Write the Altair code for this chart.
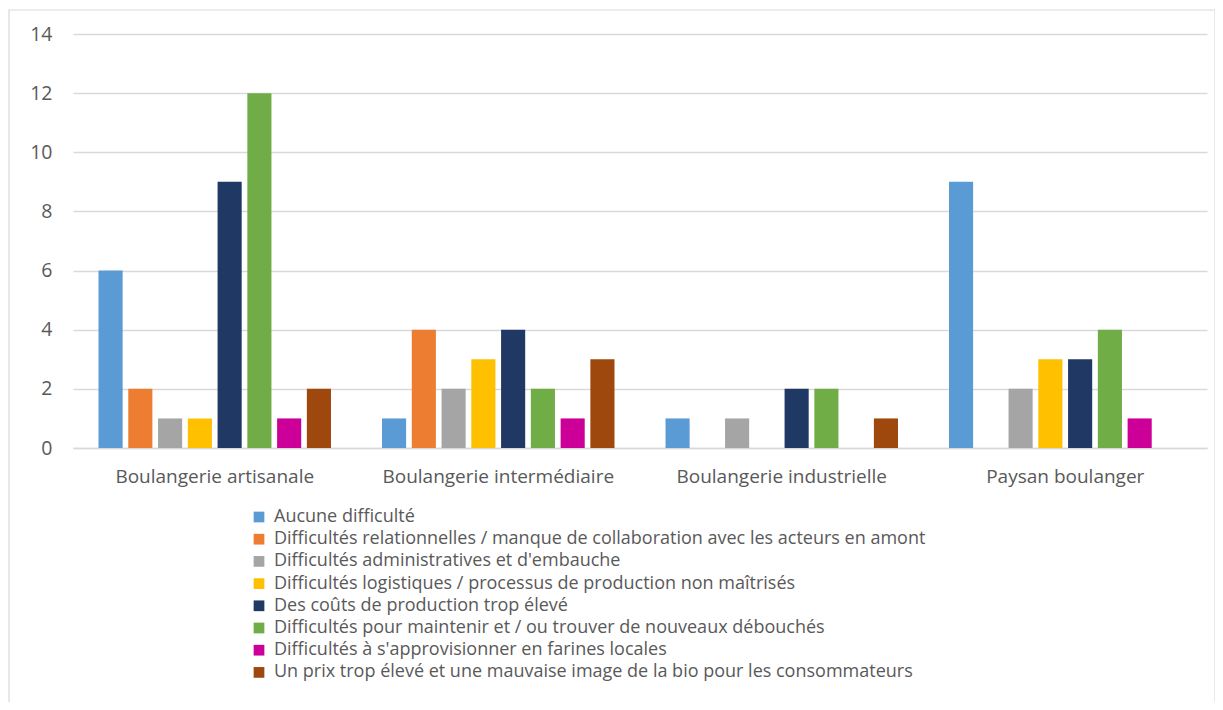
import altair as alt
import pandas as pd

categories = ["Boulangerie artisanale", "Boulangerie intermédiaire", "Boulangerie industrielle", "Paysan boulanger"]
series = [
    "Aucune difficulté",
    "Difficultés relationnelles / manque de collaboration avec les acteurs en amont",
    "Difficultés administratives et d'embauche",
    "Difficultés logistiques / processus de production non maîtrisés",
    "Des coûts de production trop élevé",
    "Difficultés pour maintenir et / ou trouver de nouveaux débouchés",
    "Difficultés à s'approvisionner en farines locales",
    "Un prix trop élevé et une mauvaise image de la bio pour les consommateurs",
]
colors = ["#5B9BD5", "#ED7D31", "#A5A5A5", "#FFC000", "#203864", "#70AD47", "#CC0099", "#9E480E"]
values = {
    "Boulangerie artisanale":    [6, 2, 1, 1, 9, 12, 1, 2],
    "Boulangerie intermédiaire": [1, 4, 2, 3, 4, 2, 1, 3],
    "Boulangerie industrielle":  [1, 0, 1, 0, 2, 2, 0, 1],
    "Paysan boulanger":          [9, 0, 2, 3, 3, 4, 1, 0],
}
y_ticks = [0, 2, 4, 6, 8, 10, 12, 14]

rows = []
for c in categories:
    for s, v in zip(series, values[c]):
        rows.append({"categorie": c, "serie": s, "valeur": v})
df = pd.DataFrame(rows)

FONT = "Open Sans"
GREY = "#595959"

bars = alt.Chart(df).mark_bar().encode(
    x=alt.X("categorie:N", sort=categories,
            scale=alt.Scale(paddingInner=0.18, paddingOuter=0.09),
            axis=alt.Axis(title=None, labelAngle=0, ticks=False, domainColor="#d9d9d9",
                          domainWidth=1.5, labelFont=FONT, labelFontSize=19, labelColor=GREY,
                          labelPadding=19, grid=False, labelLimit=400)),
    xOffset=alt.XOffset("serie:N", sort=series, scale=alt.Scale(paddingInner=0.19, paddingOuter=0)),
    y=alt.Y("valeur:Q", scale=alt.Scale(domain=[0, 14], nice=False),
            axis=alt.Axis(title=None, values=y_ticks, domain=False, ticks=False,
                          gridColor="#d9d9d9", gridWidth=1.5, labelFont=FONT,
                          labelFontSize=19.5, labelColor=GREY, labelPadding=21)),
    color=alt.Color("serie:N", sort=series,
                    scale=alt.Scale(domain=series, range=colors),
                    legend=alt.Legend(orient="none", legendX=177, legendY=474, direction="vertical",
                                      title=None, symbolType="square", symbolSize=115,
                                      symbolStrokeWidth=0, labelFont=FONT, labelFontSize=18,
                                      labelColor=GREY, rowPadding=4.2, labelLimit=1000,
                                      labelOffset=6, padding=0)),
)

border = alt.Chart(pd.DataFrame({"k": [0]})).mark_rect(
    fill=None, stroke="#d9d9d9", strokeWidth=1.2
).encode(
    x=alt.value(-64), x2=alt.value(1142), y=alt.value(-24), y2=alt.value(720)
)

chart = alt.layer(border, bars).properties(
    width=1134, height=414,
    autosize=alt.AutoSizeParams(type="none"),
    padding={"left": 65, "top": 26, "right": 8, "bottom": 254},
).configure_view(stroke=None)

chart.save("out.html", embed_options={"renderer": "svg", "actions": False})
